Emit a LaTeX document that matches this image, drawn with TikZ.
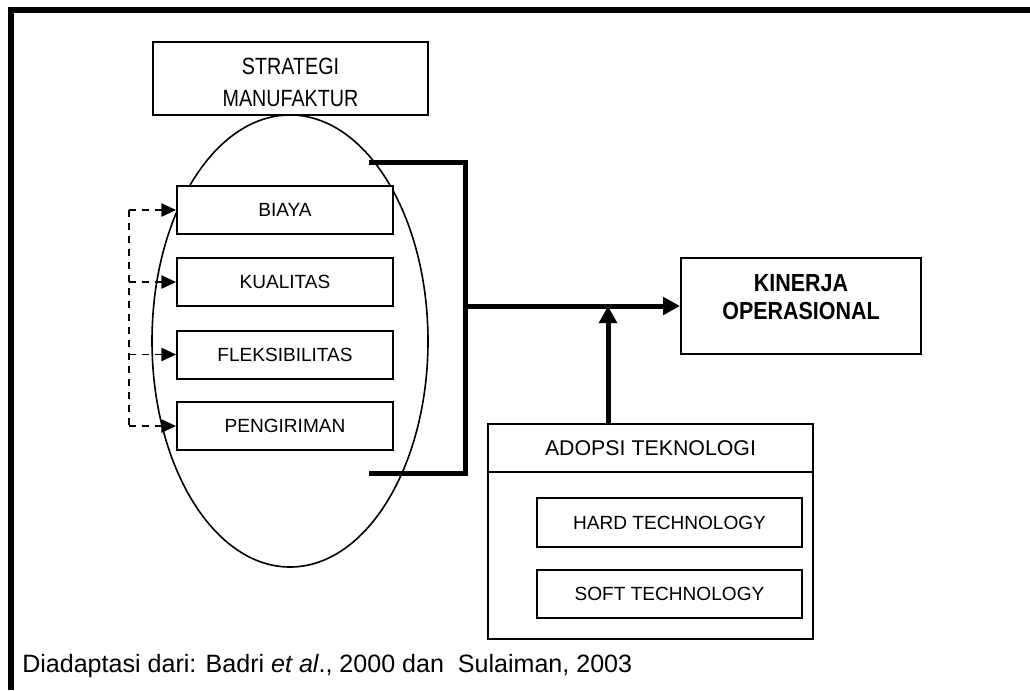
\documentclass[tikz,border=0pt]{standalone}
\usepackage{fontspec}
\setmainfont{Liberation Sans}
\newfontfamily\narrowfont[FakeStretch=0.84]{Liberation Sans}
\newfontfamily\narrowboldfont[FakeStretch=0.87]{Liberation Sans Bold}
\usetikzlibrary{arrows.meta,shapes.geometric}
\tikzset{
  box/.style={draw,line width=1.5pt,fill=white,inner sep=0pt,align=center,
    font=\fontsize{14.3}{18.75}\selectfont},
  heavy/.style={line width=3.75pt},
  heavyarrow/.style={line width=3.75pt,-{Triangle[length=12.75pt,width=13pt]}},
  dasharrow/.style={line width=1.2pt,dash pattern=on 5.25pt off 4.5pt,
    -{Triangle[length=11pt,width=10pt]}},
}
\begin{document}
\begin{tikzpicture}[x=0.75pt,y=-0.75pt]
\useasboundingbox (0,0) rectangle (1030,690);
% outer frame (only top and left visible)
\coordinate (fbl) at (11,690);
\coordinate (ftl) at (11,10);
\coordinate (ftr) at (1030,10);
\draw[line width=4.5pt] (fbl) -- (ftl) -- (ftr);

% strategy ellipse and title
\node[draw,ellipse,line width=1.2pt,inner sep=0pt,minimum width=276*0.75pt,
  minimum height=452*0.75pt] (ell) at (290,341) {};
\node[box,minimum width=274.5*0.75pt,minimum height=73*0.75pt] (strat) at (290.5,78.5) {};
\node[align=center,inner sep=0pt,font=\narrowfont\fontsize{17.6}{24}\selectfont]
  (strattxt) at (290.5,82) {STRATEGI\\MANUFAKTUR};

% bracket
\coordinate (bt) at (369,162);
\coordinate (btr) at (465,162);
\coordinate (bbr) at (465,473);
\coordinate (bb) at (369,473);
\coordinate (jn) at (465,306);
\draw[heavy,line join=miter] (bt) -- (btr) -- (bbr) -- (bb);

% four components
\node[box,minimum width=216*0.75pt,minimum height=48*0.75pt] (biaya) at (285,210) {BIAYA};
\node[box,minimum width=216*0.75pt,minimum height=48*0.75pt] (kual) at (285,282) {KUALITAS};
\node[box,minimum width=216*0.75pt,minimum height=48*0.75pt] (fleks) at (285,354.5) {FLEKSIBILITAS};
\node[box,minimum width=216*0.75pt,minimum height=48*0.75pt] (peng) at (285,426) {PENGIRIMAN};

% dashed feedback
\coordinate (dtop) at (129,210);
\coordinate (dbot) at (129,426);
\draw[line width=1.2pt,dash pattern=on 5.25pt off 4.5pt] (dtop) -- (dbot);
\draw[dasharrow] (dtop) -- (biaya.west);
\draw[dasharrow] (dtop |- kual.west) -- (kual.west);
\draw[dasharrow] (dtop |- fleks.west) -- (fleks.west);
\draw[dasharrow] (dbot) -- (peng.west);

% performance
\node[box,minimum width=240*0.75pt,minimum height=96*0.75pt] (kin) at (801,306) {};
\node[align=center,inner sep=0pt,font=\narrowboldfont\fontsize{18.5}{21}\selectfont]
  (kintxt) at (801,297) {KINERJA\\OPERASIONAL};
\draw[heavyarrow] (jn) -- (kin.west);

% technology adoption
\node[box,minimum width=325*0.75pt,minimum height=215*0.75pt] (adop) at (650.5,531.5) {};
\node[box,minimum width=325*0.75pt,minimum height=48*0.75pt,
  font=\fontsize{16}{20}\selectfont] (adh) at (650.5,448) {ADOPSI TEKNOLOGI};
\node[box,minimum width=265*0.75pt,minimum height=49*0.75pt] (hard) at (669.5,522.5) {HARD TECHNOLOGY};
\node[box,minimum width=265*0.75pt,minimum height=48*0.75pt] (soft) at (669.5,594) {SOFT TECHNOLOGY};
\coordinate (adtop) at (608,424);
\coordinate (amid) at (608,306);
\draw[heavyarrow] (adtop) -- (amid);

% caption
\node[anchor=base west,inner sep=0pt,font=\fontsize{18.8}{22}\selectfont] (cap) at (22,672)
  {Diadaptasi dari: Badri \textit{et al}., 2000 dan\ \ Sulaiman, 2003};
\end{tikzpicture}
\end{document}
